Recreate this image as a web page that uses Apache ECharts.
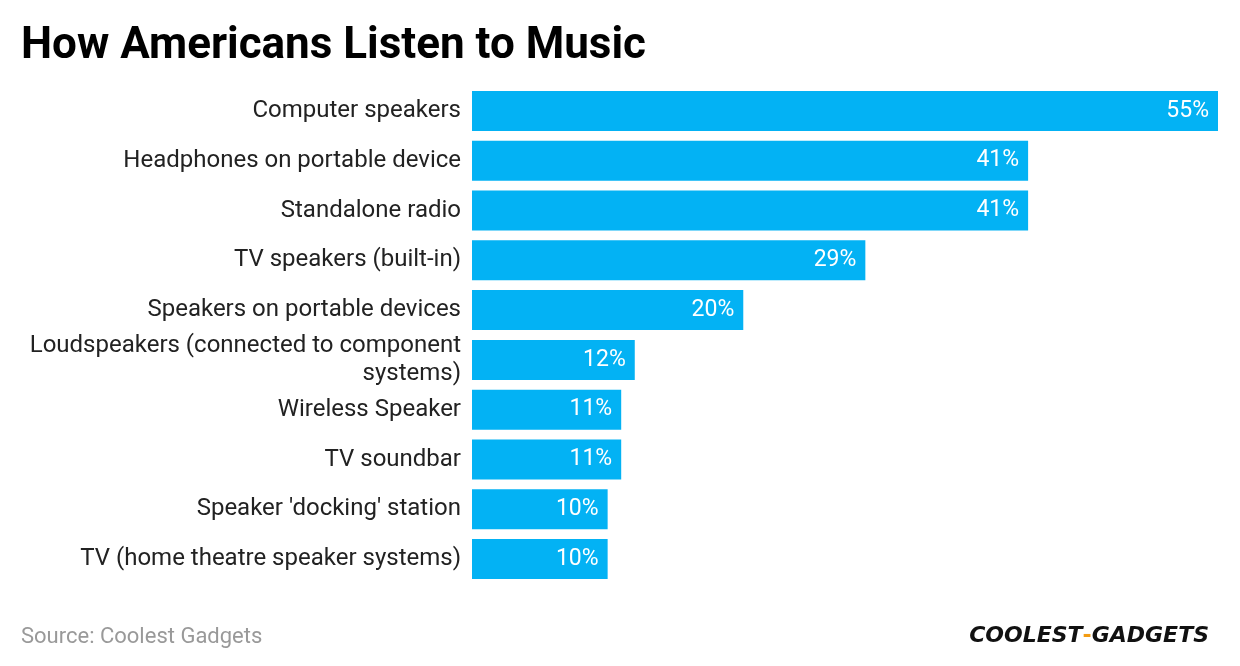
<!DOCTYPE html>
<html><head><meta charset="utf-8">
<script src="https://cdn.jsdelivr.net/npm/echarts@6/dist/echarts.min.js"></script>
<style>html,body{margin:0;padding:0;background:#fff}#c{width:1240px;height:666px}</style>
</head><body><div id="c"></div>
<script>
const categories = ["Computer speakers","Headphones on portable device","Standalone radio","TV speakers (built-in)","Speakers on portable devices","Loudspeakers (connected to component\nsystems)","Wireless Speaker","TV soundbar","Speaker 'docking' station","TV (home theatre speaker systems)"];
const values = [55,41,41,29,20,12,11,11,10,10];
const chart = echarts.init(document.getElementById('c'));
chart.setOption({
  animation:false,
  title:[
    {text:"How Americans Listen to Music",left:16,top:20,textStyle:{fontFamily:"Roboto",fontWeight:"bold",fontSize:44,color:"#000"}},
    {text:"Source: Coolest Gadgets",left:16,top:621,textStyle:{fontFamily:"Roboto",fontWeight:"normal",fontSize:22,color:"#999"}},
    {text:"{a|COOLEST}{b|-}{a|GADGETS}",right:26,top:620,textStyle:{rich:{a:{fontFamily:"DejaVu Sans",fontWeight:"bold",fontStyle:"italic",fontSize:22,color:"#111"},b:{fontFamily:"DejaVu Sans",fontWeight:"bold",fontSize:22,color:"#f39c12"}}}}
  ],
  grid:{left:472,right:22,top:86,bottom:82,containLabel:false},
  xAxis:{type:"value",min:0,max:55,show:false},
  yAxis:{type:"category",data:categories,inverse:true,axisLine:{show:false},axisTick:{show:false},
    axisLabel:{fontFamily:"Roboto",fontSize:24,color:"#222",margin:11,lineHeight:28,align:"right"}},
  series:[{type:"bar",data:values,barWidth:40,itemStyle:{color:"#03b2f4"},
    label:{show:true,position:"insideRight",formatter:"{c}%",color:"#fff",fontFamily:"Roboto",fontSize:23,distance:9}}]
});
</script></body></html>
